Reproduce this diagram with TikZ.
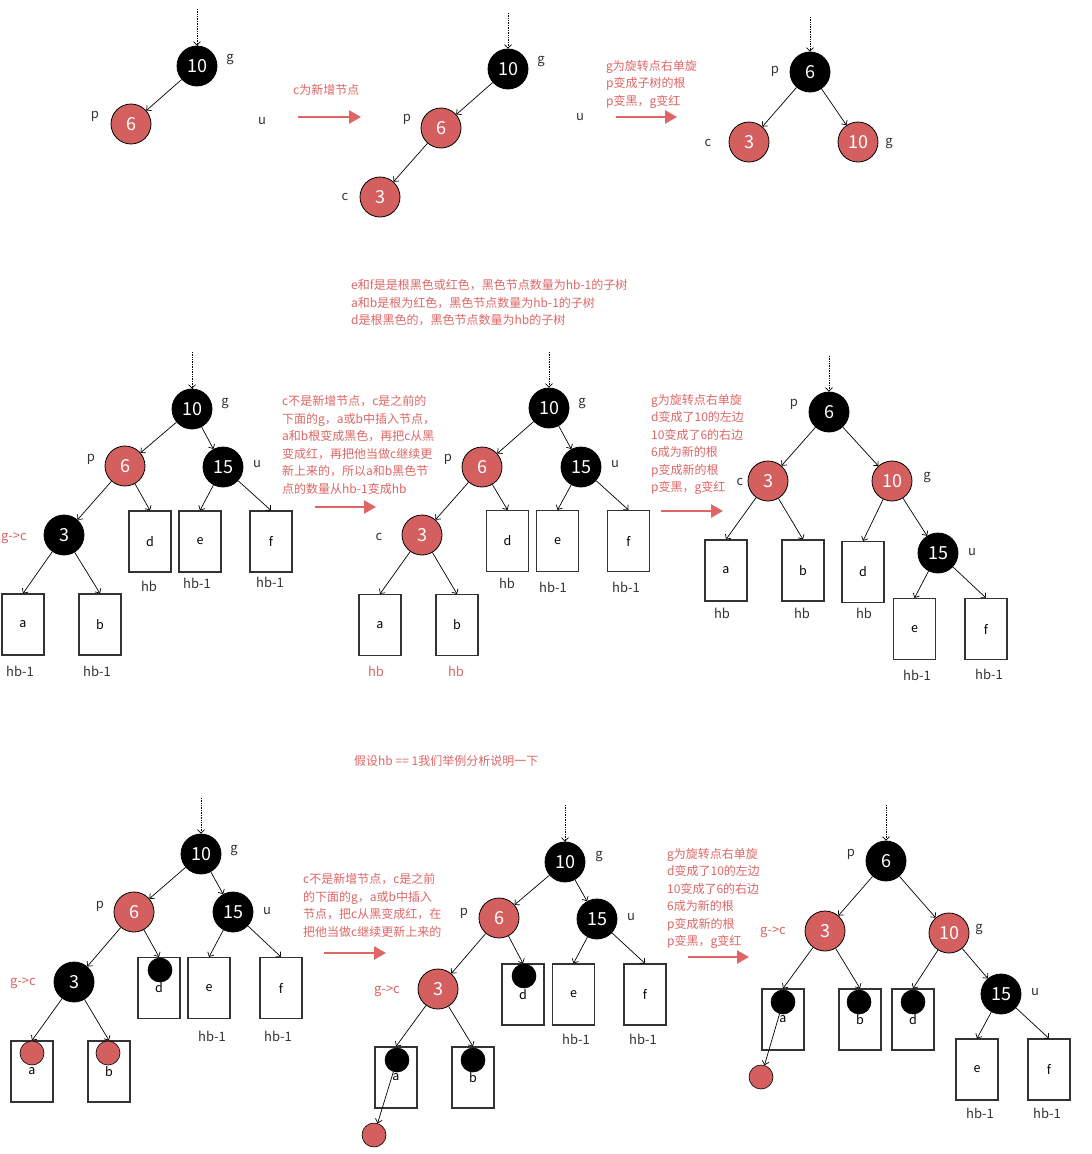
\documentclass[tikz,border=0pt]{standalone}
\usepackage{fontspec}
\setmainfont{Noto Sans CJK SC}
\usetikzlibrary{arrows.meta}
\definecolor{rfill}{HTML}{D35F5F}
\definecolor{rtext}{HTML}{E06666}
\definecolor{lblc}{HTML}{333333}
\begin{document}
\begin{tikzpicture}[x=1pt,y=-1pt,
  bn/.style={circle, draw=black, line width=0.8pt, fill=black, text=white, minimum size=40pt, inner sep=0pt, font=\fontsize{18}{18}\selectfont},
  rn/.style={bn, fill=rfill},
  sb/.style={circle, draw=black, line width=0.6pt, fill=black, minimum size=24pt, inner sep=0pt},
  sr/.style={sb, fill=rfill},
  bx/.style={draw=black!80, line width=1.1pt, minimum width=42pt, minimum height=61pt, inner sep=0pt, font=\fontsize{12.5}{12.5}\selectfont},
  lb/.style={text=lblc, font=\fontsize{13}{13}\selectfont, inner sep=0pt},
  rl/.style={lb, text=rtext},
  note/.style={text=rtext, font=\fontsize{12}{17.5}\selectfont, align=left, anchor=west, inner sep=0pt},
  ed/.style={-{Straight Barb[length=3.5pt,width=7pt]}, line width=0.7pt},
  dt/.style={ed, densely dotted},
  big/.style={-{Triangle[length=12pt,width=13pt]}, line width=2.6pt, draw=rtext}
]
\fill[white] (0,0) rectangle (1092,1154);
\useasboundingbox (0,0) rectangle (1092,1154);

% ---------------- Section 1 ----------------
\coordinate (t1) at (197,9);
\node[bn] (g1) at (197,66) {10};
\node[rn] (p1) at (131,124) {6};
\draw[dt] (t1) -- (g1);
\draw[ed] (g1) -- (p1);
\node[lb] at (230,60) {g};
\node[lb] at (95,116) {p};
\node[lb] at (262,121) {u};
\coordinate (a1s) at (298,117); \coordinate (a1e) at (361,117);
\draw[big] (a1s) -- (a1e);
\node[note] at (293,90) {c为新增节点};

\coordinate (t2) at (508,13);
\node[bn] (g2) at (508,69) {10};
\node[rn] (p2) at (441,128) {6};
\node[rn] (c2) at (380,197) {3};
\draw[dt] (t2) -- (g2);
\draw[ed] (g2) -- (p2);
\draw[ed] (p2) -- (c2);
\node[lb] at (541,62) {g};
\node[lb] at (407,119) {p};
\node[lb] at (345,197) {c};
\node[lb] at (580,117) {u};
\coordinate (a2s) at (616,117); \coordinate (a2e) at (677,117);
\draw[big] (a2s) -- (a2e);
\node[note] at (606,84) {g为旋转点右单旋\\p变成子树的根\\p变黑，g变红};

\coordinate (t3) at (810,17);
\node[bn] (p3) at (810,72) {6};
\node[rn] (c3) at (749,142) {3};
\node[rn] (g3) at (858,142) {10};
\draw[dt] (t3) -- (p3);
\draw[ed] (p3) -- (c3);
\draw[ed] (p3) -- (g3);
\node[lb] at (775,71) {p};
\node[lb] at (708,143) {c};
\node[lb] at (889,144) {g};

% ---------------- Section 2 ----------------
\node[note] at (351,303) {e和f是是根黑色或红色，黑色节点数量为hb-1的子树\\a和b是根为红色，黑色节点数量为hb-1的子树\\d是根黑色的，黑色节点数量为hb的子树};

\coordinate (t4) at (192,352);
\node[bn] (g4) at (192,409) {10};
\node[rn] (p4) at (125,466) {6};
\node[bn] (u4) at (223,467) {15};
\node[bn] (c4) at (64,535) {3};
\node[bx] (d4) at (150,541.5) {d};
\node[bx] (e4) at (200,541.5) {e};
\node[bx] (f4) at (271,541.5) {f};
\node[bx] (a4) at (23,624.5) {a};
\node[bx] (b4) at (100,624.5) {b};
\draw[dt] (t4) -- (g4);
\draw[ed] (g4) -- (p4);
\draw[ed] (g4) -- (u4);
\draw[ed] (p4) -- (c4);
\draw[ed] (p4) -- (d4.north);
\draw[ed] (u4) -- (e4.north);
\draw[ed] (u4) -- (f4.north);
\draw[ed] (c4) -- (a4.north);
\draw[ed] (c4) -- (b4.north);
\node[lb] at (225,403) {g};
\node[lb] at (91,459) {p};
\node[lb] at (257,464) {u};
\node[rl] at (14,538) {g->c};
\node[lb] at (149,586) {hb};
\node[lb] at (197,583) {hb-1};
\node[lb] at (270,582) {hb-1};
\node[lb] at (20,671) {hb-1};
\node[lb] at (97,671) {hb-1};

\coordinate (a3s) at (315,507); \coordinate (a3e) at (376,507);
\draw[big] (a3s) -- (a3e);
\node[note] at (282,445) {c不是新增节点，c是之前的\\下面的g，a或b中插入节点，\\a和b根变成黑色，再把c从黑\\变成红，再把他当做c继续更\\新上来的，所以a和b黑色节\\点的数量从hb-1变成hb};

\coordinate (t5) at (549,352);
\node[bn] (g5) at (549,408) {10};
\node[rn] (p5) at (482,467) {6};
\node[bn] (u5) at (581,467) {15};
\node[rn] (c5) at (422,535) {3};
\node[bx] (d5) at (507.5,541) {d};
\node[bx] (e5) at (557.5,541) {e};
\node[bx] (f5) at (628.5,541) {f};
\node[bx] (a5) at (380,625) {a};
\node[bx] (b5) at (457,625) {b};
\draw[dt] (t5) -- (g5);
\draw[ed] (g5) -- (p5);
\draw[ed] (g5) -- (u5);
\draw[ed] (p5) -- (c5);
\draw[ed] (p5) -- (d5.north);
\draw[ed] (u5) -- (e5.north);
\draw[ed] (u5) -- (f5.north);
\draw[ed] (c5) -- (a5.north);
\draw[ed] (c5) -- (b5.north);
\node[lb] at (582,403) {g};
\node[lb] at (448,459) {p};
\node[lb] at (615,464) {u};
\node[lb] at (379,537) {c};
\node[lb] at (507,583) {hb};
\node[lb] at (553,587) {hb-1};
\node[lb] at (626,587) {hb-1};
\node[rl] at (376,671) {hb};
\node[rl] at (456,671) {hb};

\coordinate (a4s) at (661,511); \coordinate (a4e) at (723,511);
\draw[big] (a4s) -- (a4e);
\node[note] at (651,444.5) {g为旋转点右单旋\\d变成了10的左边\\10变成了6的右边\\6成为新的根\\p变成新的根\\p变黑，g变红};

\coordinate (t6) at (829,356);
\node[bn] (p6) at (829,412) {6};
\node[rn] (c6) at (768,481) {3};
\node[rn] (g6) at (892,481) {10};
\node[bn] (u6) at (938,553) {15};
\node[bx] (a6) at (726,570.5) {a};
\node[bx] (b6) at (803,570.5) {b};
\node[bx] (d6) at (863,572) {d};
\node[bx] (e6) at (914.5,629) {e};
\node[bx] (f6) at (986,629) {f};
\draw[dt] (t6) -- (p6);
\draw[ed] (p6) -- (c6);
\draw[ed] (p6) -- (g6);
\draw[ed] (c6) -- (a6.north);
\draw[ed] (c6) -- (b6.north);
\draw[ed] (g6) -- (d6.north);
\draw[ed] (g6) -- (u6);
\draw[ed] (u6) -- (e6.north);
\draw[ed] (u6) -- (f6.north);
\node[lb] at (794,404) {p};
\node[lb] at (740,482) {c};
\node[lb] at (927,477) {g};
\node[lb] at (972,552) {u};
\node[lb] at (722,613) {hb};
\node[lb] at (802,613) {hb};
\node[lb] at (864,613) {hb};
\node[lb] at (917,675) {hb-1};
\node[lb] at (989,674) {hb-1};

% ---------------- Section 3 ----------------
\node[note] at (354,761) {假设hb == 1我们举例分析说明一下};

\coordinate (t7) at (201,798);
\node[bn] (g7) at (201,854) {10};
\node[rn] (p7) at (134,912) {6};
\node[bn] (u7) at (233,912) {15};
\node[bn] (c7) at (74,982) {3};
\node[bx] (d7) at (159,988) {d};
\node[bx] (e7) at (209,988) {e};
\node[bx] (f7) at (281,988) {f};
\node[bx] (a7) at (32,1071.5) {a};
\node[bx] (b7) at (109,1071.5) {b};
\node[sb] (d7s) at (160,970) {};
\node[sr] (a7s) at (32,1053) {};
\node[sr] (b7s) at (108,1053) {};
\draw[dt] (t7) -- (g7);
\draw[ed] (g7) -- (p7);
\draw[ed] (g7) -- (u7);
\draw[ed] (p7) -- (c7);
\draw[ed] (p7) -- (d7.north);
\draw[ed] (u7) -- (e7.north);
\draw[ed] (u7) -- (f7.north);
\draw[ed] (c7) -- (a7.north);
\draw[ed] (c7) -- (b7.north);
\node[lb] at (234,850) {g};
\node[lb] at (100,906) {p};
\node[lb] at (267,911) {u};
\node[rl] at (23,983) {g->c};
\node[lb] at (212,1036) {hb-1};
\node[lb] at (278,1036) {hb-1};

\coordinate (a5s) at (324,953); \coordinate (a5e) at (386,953);
\draw[big] (a5s) -- (a5e);
\node[note] at (303,905.5) {c不是新增节点，c是之前\\的下面的g，a或b中插入\\节点，把c从黑变成红，在\\把他当做c继续更新上来的};

\coordinate (t8) at (565,805);
\node[bn] (g8) at (565,862) {10};
\node[rn] (p8) at (499,918) {6};
\node[bn] (u8) at (597,919) {15};
\node[rn] (c8) at (438,989) {3};
\node[bx] (d8) at (523,994.5) {d};
\node[bx] (e8) at (573.5,994.5) {e};
\node[bx] (f8) at (645,994.5) {f};
\node[bx] (a8) at (396,1077.5) {a};
\node[bx] (b8) at (473,1077.5) {b};
\node[sb] (d8s) at (524,976) {};
\node[sb] (a8s) at (397,1060) {};
\node[sb] (b8s) at (473,1060) {};
\node[sr] (n8) at (374,1135) {};
\draw[dt] (t8) -- (g8);
\draw[ed] (g8) -- (p8);
\draw[ed] (g8) -- (u8);
\draw[ed] (p8) -- (c8);
\draw[ed] (p8) -- (d8.north);
\draw[ed] (u8) -- (e8.north);
\draw[ed] (u8) -- (f8.north);
\draw[ed] (c8) -- (a8.north);
\draw[ed] (c8) -- (b8.north);
\draw[ed] (a8s) -- (n8);
\node[lb] at (599,856) {g};
\node[lb] at (464,913) {p};
\node[lb] at (631,917) {u};
\node[rl] at (387,991) {g->c};
\node[lb] at (576,1039) {hb-1};
\node[lb] at (643,1039) {hb-1};

\coordinate (a6s) at (688,957); \coordinate (a6e) at (749,957);
\draw[big] (a6s) -- (a6e);
\node[note] at (667,898.5) {g为旋转点右单旋\\d变成了10的左边\\10变成了6的右边\\6成为新的根\\p变成新的根\\p变黑，g变红};

\coordinate (t9) at (886,805);
\node[bn] (p9) at (886,861) {6};
\node[rn] (c9) at (825,931) {3};
\node[rn] (g9) at (949,933) {10};
\node[bn] (u9) at (1001,994) {15};
\node[bx] (a9) at (783,1019.5) {a};
\node[bx] (b9) at (860,1019.5) {b};
\node[bx] (d9) at (913,1019.5) {d};
\node[bx] (e9) at (977,1069.5) {e};
\node[bx] (f9) at (1049,1069.5) {f};
\node[sb] (a9s) at (783,1002) {};
\node[sb] (b9s) at (859,1002) {};
\node[sb] (d9s) at (913,1002) {};
\node[sr] (n9) at (761,1077) {};
\draw[dt] (t9) -- (p9);
\draw[ed] (p9) -- (c9);
\draw[ed] (p9) -- (g9);
\draw[ed] (c9) -- (a9.north);
\draw[ed] (c9) -- (b9.north);
\draw[ed] (g9) -- (d9.north);
\draw[ed] (g9) -- (u9);
\draw[ed] (u9) -- (e9.north);
\draw[ed] (u9) -- (f9.north);
\draw[ed] (a9s) -- (n9);
\node[lb] at (851,854) {p};
\node[rl] at (773,932) {g->c};
\node[lb] at (979,929) {g};
\node[lb] at (1035,992) {u};
\node[lb] at (980,1113) {hb-1};
\node[lb] at (1047,1113) {hb-1};
\end{tikzpicture}
\end{document}
